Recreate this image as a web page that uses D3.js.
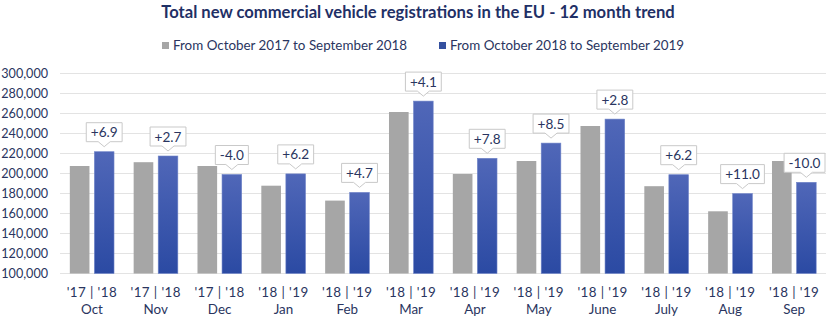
<!DOCTYPE html>
<html lang="en">
<head>
<meta charset="UTF-8">
<title>Total new commercial vehicle registrations in the EU</title>
<script src="https://d3js.org/d3.v7.min.js"></script>
<style>
  body { margin: 0; background: #fff; }
  svg text { font-family: Lato, "Open Sans", sans-serif; }
</style>
</head>
<body>
<div id="chart"></div>
<script>
    const months = ["Oct", "Nov", "Dec", "Jan", "Feb", "Mar", "Apr", "May", "June", "July", "Aug", "Sep"];
    const yearLabels = ["'17 | '18", "'17 | '18", "'17 | '18", "'18 | '19", "'18 | '19", "'18 | '19",
                        "'18 | '19", "'18 | '19", "'18 | '19", "'18 | '19", "'18 | '19", "'18 | '19"];
    const prevYear = [207500, 211300, 207500, 187800, 172900, 261500, 199500, 212500, 247500, 187300, 162200, 212500];
    const currYear = [221800, 217500, 199000, 199600, 181100, 272400, 215200, 230400, 254400, 198800, 179900, 191200];
    const changes = ["+6.9", "+2.7", "-4.0", "+6.2", "+4.7", "+4.1", "+7.8", "+8.5", "+2.8", "+6.2", "+11.0", "-10.0"];
    const seriesNames = ["From October 2017 to September 2018", "From October 2018 to September 2019"];
    const yTicks = [100000, 120000, 140000, 160000, 180000, 200000, 220000, 240000, 260000, 280000, 300000];

    const width = 835, height = 325;
    const plotLeft = 60, plotRight = 826, plotTop = 73.5, plotBottom = 273.5;

    const svg = d3.select("#chart").append("svg")
        .attr("width", width)
        .attr("height", height);

    const defs = svg.append("defs");
    const grad = defs.append("linearGradient")
        .attr("id", "blueGrad")
        .attr("x1", 0).attr("y1", 0).attr("x2", 0).attr("y2", 1);
    grad.append("stop").attr("offset", "0%").attr("stop-color", "#5067b8");
    grad.append("stop").attr("offset", "100%").attr("stop-color", "#2b4aa3");

    const x0 = d3.scaleBand().domain(months).range([plotLeft, plotRight]).padding(0);
    const x1 = d3.scaleBand().domain([0, 1]).range([0, x0.bandwidth()])
        .paddingInner(0.2).paddingOuter(0.4);
    const y = d3.scaleLinear().domain([100000, 300000]).range([plotBottom, plotTop]);

    // title
    svg.append("text")
        .attr("x", 418).attr("y", 18)
        .attr("text-anchor", "middle")
        .attr("font-size", 16.6)
        .attr("font-weight", "bold")
        .attr("fill", "#1f3066")
        .text("Total new commercial vehicle registrations in the EU - 12 month trend");

    // legend
    const legendX = [162, 439];
    const legendColors = ["#a6a6a6", "#34509f"];
    seriesNames.forEach((name, i) => {
        svg.append("rect")
            .attr("x", legendX[i]).attr("y", 42)
            .attr("width", 7).attr("height", 7)
            .attr("fill", legendColors[i]);
        svg.append("text")
            .attr("x", legendX[i] + 11).attr("y", 50)
            .attr("font-size", 13.4)
            .attr("fill", "#2a3560")
            .text(name);
    });

    // grid
    svg.append("g")
        .selectAll("line")
        .data(yTicks)
        .join("line")
        .attr("x1", plotLeft).attr("x2", plotRight)
        .attr("y1", d => y(d)).attr("y2", d => y(d))
        .attr("stroke", "#e3e3e3")
        .attr("stroke-width", 1.2);

    // y axis labels
    const yAxis = d3.axisLeft(y).tickValues(yTicks).tickFormat(d3.format(",")).tickSize(0).tickPadding(0);
    const yg = svg.append("g").attr("transform", `translate(48,0)`).call(yAxis);
    yg.select(".domain").remove();
    yg.selectAll("text")
        .attr("font-size", 12.6)
        .attr("fill", "#2a3560")
        .style("font-family", "Lato, 'Open Sans', sans-serif");

    // bars
    const groups = svg.append("g")
        .selectAll("g")
        .data(months)
        .join("g")
        .attr("transform", d => `translate(${x0(d)},0)`);

    groups.append("rect")
        .attr("x", x1(0))
        .attr("width", x1.bandwidth())
        .attr("y", (d, i) => y(prevYear[i]))
        .attr("height", (d, i) => y(100000) - y(prevYear[i]))
        .attr("fill", "#a6a6a6");

    groups.append("rect")
        .attr("x", x1(1))
        .attr("width", x1.bandwidth())
        .attr("y", (d, i) => y(currYear[i]))
        .attr("height", (d, i) => y(100000) - y(currYear[i]))
        .attr("fill", "url(#blueGrad)")
        .attr("stroke", "#6f84c8")
        .attr("stroke-width", 0.6);

    // callouts
    groups.each(function (d, i) {
        const g = d3.select(this);
        const cx = x1(1) + x1.bandwidth() / 2;
        const t = g.append("text")
            .attr("font-size", 13.6)
            .attr("fill", "#2a3560")
            .attr("text-anchor", "middle")
            .text(changes[i]);
        const w = t.node().getComputedTextLength() + 9;
        const tip = y(currYear[i]) - 5;
        const bodyBottom = tip - 5;
        const bodyTop = bodyBottom - 19;
        let bx = cx - w / 2;
        const maxX = plotRight - x0(d) - 1;
        if (bx + w > maxX) bx = maxX - w;
        const path = `M${bx},${bodyTop} H${bx + w} V${bodyBottom} H${cx + 6} L${cx},${tip} L${cx - 6},${bodyBottom} H${bx} Z`;
        g.insert("path", "text")
            .attr("d", path)
            .attr("fill", "#fff")
            .attr("stroke", "#c9c9c9")
            .attr("stroke-width", 1);
        t.attr("x", bx + w / 2).attr("y", bodyTop + 14.5);
    });

    // x labels
    groups.append("text")
        .attr("x", x0.bandwidth() / 2).attr("y", 297)
        .attr("text-anchor", "middle")
        .attr("font-size", 13.4)
        .attr("letter-spacing", 0.4)
        .attr("fill", "#2a3560")
        .text((d, i) => yearLabels[i]);

    groups.append("text")
        .attr("x", x0.bandwidth() / 2).attr("y", 314)
        .attr("text-anchor", "middle")
        .attr("font-size", 13.4)
        .attr("fill", "#2a3560")
        .text(d => d);
</script>
</body>
</html>
